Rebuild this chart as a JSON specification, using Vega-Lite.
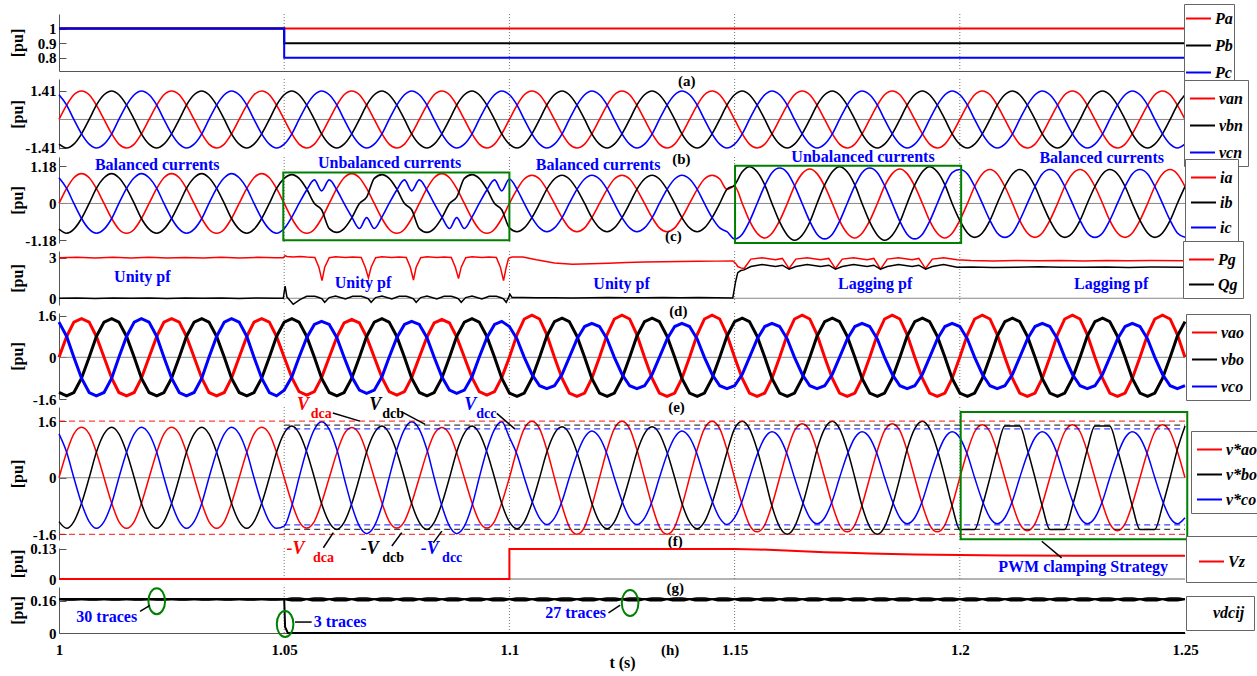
{
"$schema":"https://vega.github.io/schema/vega-lite/v6.json",
"padding":{"left":9,"top":3,"right":4,"bottom":2},
"bounds":"flush",
"spacing":8,
"config":{
"view":{"stroke":null},
"background":"white",
"axis":{"labelFont":"Liberation Serif","labelFontSize":15,"labelFontWeight":"bold","labelColor":"#000","titleFont":"Liberation Serif","titleFontSize":16,"titleFontWeight":"bold","titleColor":"#000","domainColor":"#555","tickColor":"#555","grid":false},
"axisY":{"titleX":-34,"tickSize":-7,"labelPadding":10,"labelOverlap":false},
"legend":{"strokeColor":"#666","fillColor":"white","padding":5,"rowPadding":6,"symbolType":"stroke","symbolSize":625,"symbolStrokeWidth":2,"labelFont":"Liberation Serif","labelFontSize":16,"labelFontStyle":"italic","labelFontWeight":"bold","labelColor":"#000","labelOffset":3},
"text":{"font":"Liberation Serif","fontWeight":"bold","fontSize":15}
},
"resolve":{"scale":{"color":"independent","y":"independent","x":"independent"},"legend":{"color":"independent"}},
"datasets":{
"vg":[{"t":1.05},{"t":1.1},{"t":1.15},{"t":1.2}],
"w":[
{"t":1,"a":0,"b":-1.22,"c":1.22,"d":0,"e":-0.82,"f":0.82,"g":0,"h":-1.35,"i":1.35,"j":0,"k":-1.24,"l":1.24,"p":0.166,"q":0.166},
{"t":1.0017,"a":0.71,"b":-1.41,"c":0.71,"d":0.48,"e":-0.95,"f":0.48,"g":0.8,"h":-1.48,"i":0.8,"j":0.72,"k":-1.43,"l":0.72,"p":0.169,"q":0.163},
{"t":1.0033,"a":1.22,"b":-1.22,"c":0,"d":0.82,"e":-0.82,"f":0,"g":1.35,"h":-1.35,"i":0,"j":1.24,"k":-1.24,"l":0,"p":0.169,"q":0.163},
{"t":1.005,"a":1.41,"b":-0.71,"c":-0.71,"d":0.95,"e":-0.48,"f":-0.48,"g":1.48,"h":-0.8,"i":-0.8,"j":1.43,"k":-0.72,"l":-0.72,"p":0.166,"q":0.166},
{"t":1.0067,"a":1.22,"b":0,"c":-1.22,"d":0.82,"e":0,"f":-0.82,"g":1.35,"h":0,"i":-1.35,"j":1.24,"k":0,"l":-1.24,"p":0.163,"q":0.169},
{"t":1.0083,"a":0.71,"b":0.71,"c":-1.41,"d":0.48,"e":0.48,"f":-0.95,"g":0.8,"h":0.8,"i":-1.48,"j":0.72,"k":0.72,"l":-1.43,"p":0.163,"q":0.169},
{"t":1.01,"a":0,"b":1.22,"c":-1.22,"d":0,"e":0.82,"f":-0.82,"g":0,"h":1.35,"i":-1.35,"j":0,"k":1.24,"l":-1.24,"p":0.166,"q":0.166},
{"t":1.0117,"a":-0.71,"b":1.41,"c":-0.71,"d":-0.48,"e":0.95,"f":-0.48,"g":-0.8,"h":1.48,"i":-0.8,"j":-0.72,"k":1.43,"l":-0.72,"p":0.169,"q":0.163},
{"t":1.0133,"a":-1.22,"b":1.22,"c":0,"d":-0.82,"e":0.82,"f":0,"g":-1.35,"h":1.35,"i":0,"j":-1.24,"k":1.24,"l":0,"p":0.169,"q":0.163},
{"t":1.015,"a":-1.41,"b":0.71,"c":0.71,"d":-0.95,"e":0.48,"f":0.48,"g":-1.48,"h":0.8,"i":0.8,"j":-1.43,"k":0.72,"l":0.72,"p":0.166,"q":0.166},
{"t":1.0167,"a":-1.22,"b":0,"c":1.22,"d":-0.82,"e":0,"f":0.82,"g":-1.35,"h":0,"i":1.35,"j":-1.24,"k":0,"l":1.24,"p":0.163,"q":0.169},
{"t":1.0183,"a":-0.71,"b":-0.71,"c":1.41,"d":-0.48,"e":-0.48,"f":0.95,"g":-0.8,"h":-0.8,"i":1.48,"j":-0.72,"k":-0.72,"l":1.43,"p":0.163,"q":0.169},
{"t":1.02,"a":0,"b":-1.22,"c":1.22,"d":0,"e":-0.82,"f":0.82,"g":0,"h":-1.35,"i":1.35,"j":0,"k":-1.24,"l":1.24,"p":0.166,"q":0.166},
{"t":1.0217,"a":0.71,"b":-1.41,"c":0.71,"d":0.48,"e":-0.95,"f":0.48,"g":0.8,"h":-1.48,"i":0.8,"j":0.72,"k":-1.43,"l":0.72,"p":0.169,"q":0.163},
{"t":1.0233,"a":1.22,"b":-1.22,"c":0,"d":0.82,"e":-0.82,"f":0,"g":1.35,"h":-1.35,"i":0,"j":1.24,"k":-1.24,"l":0,"p":0.169,"q":0.163},
{"t":1.025,"a":1.41,"b":-0.71,"c":-0.71,"d":0.95,"e":-0.48,"f":-0.48,"g":1.48,"h":-0.8,"i":-0.8,"j":1.43,"k":-0.72,"l":-0.72,"p":0.166,"q":0.166},
{"t":1.0267,"a":1.22,"b":0,"c":-1.22,"d":0.82,"e":0,"f":-0.82,"g":1.35,"h":0,"i":-1.35,"j":1.24,"k":0,"l":-1.24,"p":0.163,"q":0.169},
{"t":1.0283,"a":0.71,"b":0.71,"c":-1.41,"d":0.48,"e":0.48,"f":-0.95,"g":0.8,"h":0.8,"i":-1.48,"j":0.72,"k":0.72,"l":-1.43,"p":0.163,"q":0.169},
{"t":1.03,"a":0,"b":1.22,"c":-1.22,"d":0,"e":0.82,"f":-0.82,"g":0,"h":1.35,"i":-1.35,"j":0,"k":1.24,"l":-1.24,"p":0.166,"q":0.166},
{"t":1.0317,"a":-0.71,"b":1.41,"c":-0.71,"d":-0.48,"e":0.95,"f":-0.48,"g":-0.8,"h":1.48,"i":-0.8,"j":-0.72,"k":1.43,"l":-0.72,"p":0.169,"q":0.163},
{"t":1.0333,"a":-1.22,"b":1.22,"c":0,"d":-0.82,"e":0.82,"f":0,"g":-1.35,"h":1.35,"i":0,"j":-1.24,"k":1.24,"l":0,"p":0.169,"q":0.163},
{"t":1.035,"a":-1.41,"b":0.71,"c":0.71,"d":-0.95,"e":0.48,"f":0.48,"g":-1.48,"h":0.8,"i":0.8,"j":-1.43,"k":0.72,"l":0.72,"p":0.166,"q":0.166},
{"t":1.0367,"a":-1.22,"b":0,"c":1.22,"d":-0.82,"e":0,"f":0.82,"g":-1.35,"h":0,"i":1.35,"j":-1.24,"k":0,"l":1.24,"p":0.163,"q":0.169},
{"t":1.0383,"a":-0.71,"b":-0.71,"c":1.41,"d":-0.48,"e":-0.48,"f":0.95,"g":-0.8,"h":-0.8,"i":1.48,"j":-0.72,"k":-0.72,"l":1.43,"p":0.163,"q":0.169},
{"t":1.04,"a":0,"b":-1.22,"c":1.22,"d":0,"e":-0.82,"f":0.82,"g":0,"h":-1.35,"i":1.35,"j":0,"k":-1.24,"l":1.24,"p":0.166,"q":0.166},
{"t":1.0417,"a":0.71,"b":-1.41,"c":0.71,"d":0.48,"e":-0.95,"f":0.48,"g":0.8,"h":-1.48,"i":0.8,"j":0.72,"k":-1.43,"l":0.72,"p":0.169,"q":0.163},
{"t":1.0433,"a":1.22,"b":-1.22,"c":0,"d":0.82,"e":-0.82,"f":0,"g":1.35,"h":-1.35,"i":0,"j":1.24,"k":-1.24,"l":0,"p":0.169,"q":0.163},
{"t":1.045,"a":1.41,"b":-0.71,"c":-0.71,"d":0.95,"e":-0.48,"f":-0.48,"g":1.48,"h":-0.8,"i":-0.8,"j":1.43,"k":-0.72,"l":-0.72,"p":0.166,"q":0.166},
{"t":1.0467,"a":1.22,"b":0,"c":-1.22,"d":0.82,"e":0,"f":-0.82,"g":1.35,"h":0,"i":-1.35,"j":1.24,"k":0,"l":-1.24,"p":0.163,"q":0.169},
{"t":1.0483,"a":0.71,"b":0.71,"c":-1.41,"d":0.48,"e":0.48,"f":-0.95,"g":0.8,"h":0.8,"i":-1.48,"j":0.72,"k":0.72,"l":-1.43,"p":0.163,"q":0.169},
{"t":1.05,"a":0,"b":1.22,"c":-1.22,"d":0,"e":0.8,"f":-0.8,"g":0,"h":1.35,"i":-1.26,"j":0,"k":1.26,"l":-1.37,"p":0.166,"q":0.166},
{"t":1.0517,"a":-0.71,"b":1.41,"c":-0.71,"d":-0.48,"e":0.92,"f":-0.43,"g":-0.78,"h":1.48,"i":-0.75,"j":-0.71,"k":1.46,"l":-0.79,"p":0.173,"q":0.159},
{"t":1.0533,"a":-1.22,"b":1.22,"c":0,"d":-0.82,"e":0.8,"f":0,"g":-1.32,"h":1.35,"i":0,"j":-1.23,"k":1.26,"l":0,"p":0.173,"q":0.159},
{"t":1.055,"a":-1.41,"b":0.71,"c":0.71,"d":-0.95,"e":0.46,"f":0.43,"g":-1.45,"h":0.8,"i":0.75,"j":-1.42,"k":0.73,"l":0.79,"p":0.166,"q":0.166},
{"t":1.0567,"a":-1.22,"b":0,"c":1.22,"d":-0.82,"e":0,"f":0.75,"g":-1.32,"h":0,"i":1.26,"j":-1.23,"k":0,"l":1.37,"p":0.159,"q":0.173},
{"t":1.0583,"a":-0.71,"b":-0.71,"c":1.41,"d":-0.48,"e":-0.2,"f":0.4,"g":-0.78,"h":-0.8,"i":1.38,"j":-0.71,"k":-0.73,"l":1.58,"p":0.159,"q":0.173},
{"t":1.06,"a":0,"b":-1.22,"c":1.22,"d":0,"e":-0.8,"f":0.75,"g":0,"h":-1.35,"i":1.26,"j":0,"k":-1.26,"l":1.37,"p":0.166,"q":0.166},
{"t":1.0617,"a":0.71,"b":-1.41,"c":0.71,"d":0.48,"e":-0.92,"f":0.43,"g":0.78,"h":-1.48,"i":0.75,"j":0.71,"k":-1.46,"l":0.79,"p":0.173,"q":0.159},
{"t":1.0633,"a":1.22,"b":-1.22,"c":0,"d":0.82,"e":-0.8,"f":0,"g":1.32,"h":-1.35,"i":0,"j":1.23,"k":-1.26,"l":0,"p":0.173,"q":0.159},
{"t":1.065,"a":1.41,"b":-0.71,"c":-0.71,"d":0.95,"e":-0.46,"f":-0.43,"g":1.45,"h":-0.8,"i":-0.75,"j":1.42,"k":-0.73,"l":-0.79,"p":0.166,"q":0.166},
{"t":1.0667,"a":1.22,"b":0,"c":-1.22,"d":0.82,"e":0,"f":-0.8,"g":1.32,"h":0,"i":-1.26,"j":1.23,"k":0,"l":-1.37,"p":0.159,"q":0.173},
{"t":1.0683,"a":0.71,"b":0.71,"c":-1.41,"d":0.48,"e":0.2,"f":-0.45,"g":0.78,"h":0.8,"i":-1.38,"j":0.71,"k":0.73,"l":-1.58,"p":0.159,"q":0.173},
{"t":1.07,"a":0,"b":1.22,"c":-1.22,"d":0,"e":0.8,"f":-0.8,"g":0,"h":1.35,"i":-1.26,"j":0,"k":1.26,"l":-1.37,"p":0.166,"q":0.166},
{"t":1.0717,"a":-0.71,"b":1.41,"c":-0.71,"d":-0.48,"e":0.92,"f":-0.43,"g":-0.78,"h":1.48,"i":-0.75,"j":-0.71,"k":1.46,"l":-0.79,"p":0.173,"q":0.159},
{"t":1.0733,"a":-1.22,"b":1.22,"c":0,"d":-0.82,"e":0.8,"f":0,"g":-1.32,"h":1.35,"i":0,"j":-1.23,"k":1.26,"l":0,"p":0.173,"q":0.159},
{"t":1.075,"a":-1.41,"b":0.71,"c":0.71,"d":-0.95,"e":0.46,"f":0.43,"g":-1.45,"h":0.8,"i":0.75,"j":-1.42,"k":0.73,"l":0.79,"p":0.166,"q":0.166},
{"t":1.0767,"a":-1.22,"b":0,"c":1.22,"d":-0.82,"e":0,"f":0.75,"g":-1.32,"h":0,"i":1.26,"j":-1.23,"k":0,"l":1.37,"p":0.159,"q":0.173},
{"t":1.0783,"a":-0.71,"b":-0.71,"c":1.41,"d":-0.48,"e":-0.2,"f":0.4,"g":-0.78,"h":-0.8,"i":1.38,"j":-0.71,"k":-0.73,"l":1.58,"p":0.159,"q":0.173},
{"t":1.08,"a":0,"b":-1.22,"c":1.22,"d":0,"e":-0.8,"f":0.75,"g":0,"h":-1.35,"i":1.26,"j":0,"k":-1.26,"l":1.37,"p":0.166,"q":0.166},
{"t":1.0817,"a":0.71,"b":-1.41,"c":0.71,"d":0.48,"e":-0.92,"f":0.43,"g":0.78,"h":-1.48,"i":0.75,"j":0.71,"k":-1.46,"l":0.79,"p":0.173,"q":0.159},
{"t":1.0833,"a":1.22,"b":-1.22,"c":0,"d":0.82,"e":-0.8,"f":0,"g":1.32,"h":-1.35,"i":0,"j":1.23,"k":-1.26,"l":0,"p":0.173,"q":0.159},
{"t":1.085,"a":1.41,"b":-0.71,"c":-0.71,"d":0.95,"e":-0.46,"f":-0.43,"g":1.45,"h":-0.8,"i":-0.75,"j":1.42,"k":-0.73,"l":-0.79,"p":0.166,"q":0.166},
{"t":1.0867,"a":1.22,"b":0,"c":-1.22,"d":0.82,"e":0,"f":-0.8,"g":1.32,"h":0,"i":-1.26,"j":1.23,"k":0,"l":-1.37,"p":0.159,"q":0.173},
{"t":1.0883,"a":0.71,"b":0.71,"c":-1.41,"d":0.48,"e":0.2,"f":-0.45,"g":0.78,"h":0.8,"i":-1.38,"j":0.71,"k":0.73,"l":-1.58,"p":0.159,"q":0.173},
{"t":1.09,"a":0,"b":1.22,"c":-1.22,"d":0,"e":0.8,"f":-0.8,"g":0,"h":1.35,"i":-1.26,"j":0,"k":1.26,"l":-1.37,"p":0.166,"q":0.166},
{"t":1.0917,"a":-0.71,"b":1.41,"c":-0.71,"d":-0.48,"e":0.92,"f":-0.43,"g":-0.78,"h":1.48,"i":-0.75,"j":-0.71,"k":1.46,"l":-0.79,"p":0.173,"q":0.159},
{"t":1.0933,"a":-1.22,"b":1.22,"c":0,"d":-0.82,"e":0.8,"f":0,"g":-1.32,"h":1.35,"i":0,"j":-1.23,"k":1.26,"l":0,"p":0.173,"q":0.159},
{"t":1.095,"a":-1.41,"b":0.71,"c":0.71,"d":-0.95,"e":0.46,"f":0.43,"g":-1.45,"h":0.8,"i":0.75,"j":-1.42,"k":0.73,"l":0.79,"p":0.166,"q":0.166},
{"t":1.0967,"a":-1.22,"b":0,"c":1.22,"d":-0.82,"e":0,"f":0.75,"g":-1.32,"h":0,"i":1.26,"j":-1.23,"k":0,"l":1.37,"p":0.159,"q":0.173},
{"t":1.0983,"a":-0.71,"b":-0.71,"c":1.41,"d":-0.48,"e":-0.2,"f":0.4,"g":-0.78,"h":-0.8,"i":1.38,"j":-0.71,"k":-0.73,"l":1.58,"p":0.159,"q":0.173},
{"t":1.1,"a":0,"b":-1.22,"c":1.22,"d":0,"e":-0.78,"f":0.78,"g":0,"h":-1.37,"i":1.18,"j":0,"k":-1.25,"l":1.14,"p":0.166,"q":0.166},
{"t":1.1017,"a":0.71,"b":-1.41,"c":0.71,"d":0.45,"e":-0.9,"f":0.45,"g":0.87,"h":-1.5,"i":0.7,"j":0.8,"k":-1.44,"l":0.66,"p":0.173,"q":0.159},
{"t":1.1033,"a":1.22,"b":-1.22,"c":0,"d":0.78,"e":-0.78,"f":0,"g":1.47,"h":-1.37,"i":0,"j":1.39,"k":-1.25,"l":0,"p":0.173,"q":0.159},
{"t":1.105,"a":1.41,"b":-0.71,"c":-0.71,"d":0.9,"e":-0.45,"f":-0.45,"g":1.62,"h":-0.81,"i":-0.65,"j":1.6,"k":-0.72,"l":-0.66,"p":0.166,"q":0.166},
{"t":1.1067,"a":1.22,"b":0,"c":-1.22,"d":0.78,"e":0,"f":-0.78,"g":1.47,"h":0,"i":-1.09,"j":1.39,"k":0,"l":-1.14,"p":0.159,"q":0.173},
{"t":1.1083,"a":0.71,"b":0.71,"c":-1.41,"d":0.45,"e":0.45,"f":-0.9,"g":0.87,"h":0.81,"i":-1.2,"j":0.8,"k":0.72,"l":-1.32,"p":0.159,"q":0.173},
{"t":1.11,"a":0,"b":1.22,"c":-1.22,"d":0,"e":0.78,"f":-0.78,"g":0,"h":1.37,"i":-1.09,"j":0,"k":1.25,"l":-1.14,"p":0.166,"q":0.166},
{"t":1.1117,"a":-0.71,"b":1.41,"c":-0.71,"d":-0.45,"e":0.9,"f":-0.45,"g":-0.81,"h":1.5,"i":-0.65,"j":-0.8,"k":1.44,"l":-0.66,"p":0.173,"q":0.159},
{"t":1.1133,"a":-1.22,"b":1.22,"c":0,"d":-0.78,"e":0.78,"f":0,"g":-1.37,"h":1.37,"i":0,"j":-1.39,"k":1.25,"l":0,"p":0.173,"q":0.159},
{"t":1.115,"a":-1.41,"b":0.71,"c":0.71,"d":-0.9,"e":0.45,"f":0.45,"g":-1.5,"h":0.81,"i":0.7,"j":-1.6,"k":0.72,"l":0.66,"p":0.166,"q":0.166},
{"t":1.1167,"a":-1.22,"b":0,"c":1.22,"d":-0.78,"e":0,"f":0.78,"g":-1.37,"h":0,"i":1.18,"j":-1.39,"k":0,"l":1.14,"p":0.159,"q":0.173},
{"t":1.1183,"a":-0.71,"b":-0.71,"c":1.41,"d":-0.45,"e":-0.45,"f":0.9,"g":-0.81,"h":-0.81,"i":1.3,"j":-0.8,"k":-0.72,"l":1.32,"p":0.159,"q":0.173},
{"t":1.12,"a":0,"b":-1.22,"c":1.22,"d":0,"e":-0.78,"f":0.78,"g":0,"h":-1.37,"i":1.18,"j":0,"k":-1.25,"l":1.14,"p":0.166,"q":0.166},
{"t":1.1217,"a":0.71,"b":-1.41,"c":0.71,"d":0.45,"e":-0.9,"f":0.45,"g":0.87,"h":-1.5,"i":0.7,"j":0.8,"k":-1.44,"l":0.66,"p":0.173,"q":0.159},
{"t":1.1233,"a":1.22,"b":-1.22,"c":0,"d":0.78,"e":-0.78,"f":0,"g":1.47,"h":-1.37,"i":0,"j":1.39,"k":-1.25,"l":0,"p":0.173,"q":0.159},
{"t":1.125,"a":1.41,"b":-0.71,"c":-0.71,"d":0.9,"e":-0.45,"f":-0.45,"g":1.62,"h":-0.81,"i":-0.65,"j":1.6,"k":-0.72,"l":-0.66,"p":0.166,"q":0.166},
{"t":1.1267,"a":1.22,"b":0,"c":-1.22,"d":0.78,"e":0,"f":-0.78,"g":1.47,"h":0,"i":-1.09,"j":1.39,"k":0,"l":-1.14,"p":0.159,"q":0.173},
{"t":1.1283,"a":0.71,"b":0.71,"c":-1.41,"d":0.45,"e":0.45,"f":-0.9,"g":0.87,"h":0.81,"i":-1.2,"j":0.8,"k":0.72,"l":-1.32,"p":0.159,"q":0.173},
{"t":1.13,"a":0,"b":1.22,"c":-1.22,"d":0,"e":0.78,"f":-0.78,"g":0,"h":1.37,"i":-1.09,"j":0,"k":1.25,"l":-1.14,"p":0.166,"q":0.166},
{"t":1.1317,"a":-0.71,"b":1.41,"c":-0.71,"d":-0.45,"e":0.9,"f":-0.45,"g":-0.81,"h":1.5,"i":-0.65,"j":-0.8,"k":1.44,"l":-0.66,"p":0.173,"q":0.159},
{"t":1.1333,"a":-1.22,"b":1.22,"c":0,"d":-0.78,"e":0.78,"f":0,"g":-1.37,"h":1.37,"i":0,"j":-1.39,"k":1.25,"l":0,"p":0.173,"q":0.159},
{"t":1.135,"a":-1.41,"b":0.71,"c":0.71,"d":-0.9,"e":0.45,"f":0.45,"g":-1.5,"h":0.81,"i":0.7,"j":-1.6,"k":0.72,"l":0.66,"p":0.166,"q":0.166},
{"t":1.1367,"a":-1.22,"b":0,"c":1.22,"d":-0.78,"e":0,"f":0.78,"g":-1.37,"h":0,"i":1.18,"j":-1.39,"k":0,"l":1.14,"p":0.159,"q":0.173},
{"t":1.1383,"a":-0.71,"b":-0.71,"c":1.41,"d":-0.45,"e":-0.45,"f":0.9,"g":-0.81,"h":-0.81,"i":1.3,"j":-0.8,"k":-0.72,"l":1.32,"p":0.159,"q":0.173},
{"t":1.14,"a":0,"b":-1.22,"c":1.22,"d":0,"e":-0.78,"f":0.78,"g":0,"h":-1.37,"i":1.18,"j":0,"k":-1.25,"l":1.14,"p":0.166,"q":0.166},
{"t":1.1417,"a":0.71,"b":-1.41,"c":0.71,"d":0.45,"e":-0.9,"f":0.45,"g":0.87,"h":-1.5,"i":0.7,"j":0.8,"k":-1.44,"l":0.66,"p":0.173,"q":0.159},
{"t":1.1433,"a":1.22,"b":-1.22,"c":0,"d":0.78,"e":-0.78,"f":0,"g":1.47,"h":-1.37,"i":0,"j":1.39,"k":-1.25,"l":0,"p":0.173,"q":0.159},
{"t":1.145,"a":1.41,"b":-0.71,"c":-0.71,"d":0.9,"e":-0.45,"f":-0.45,"g":1.62,"h":-0.81,"i":-0.65,"j":1.6,"k":-0.72,"l":-0.66,"p":0.166,"q":0.166},
{"t":1.1467,"a":1.22,"b":0,"c":-1.22,"d":0.78,"e":0,"f":-0.78,"g":1.47,"h":0,"i":-1.09,"j":1.39,"k":0,"l":-1.14,"p":0.159,"q":0.173},
{"t":1.1483,"a":0.71,"b":0.71,"c":-1.41,"d":0.45,"e":0.45,"f":-0.9,"g":0.87,"h":0.81,"i":-1.2,"j":0.8,"k":0.72,"l":-1.32,"p":0.159,"q":0.173},
{"t":1.15,"a":0,"b":1.22,"c":-1.22,"d":0.55,"e":0.59,"f":-1.13,"g":0,"h":1.37,"i":-1.09,"j":0,"k":1.39,"l":-1.13,"p":0.166,"q":0.166},
{"t":1.1517,"a":-0.71,"b":1.41,"c":-0.71,"d":0,"e":1.01,"f":-0.98,"g":-0.81,"h":1.5,"i":-0.65,"j":-0.77,"k":1.6,"l":-0.65,"p":0.173,"q":0.159},
{"t":1.1533,"a":-1.22,"b":1.22,"c":0,"d":-0.55,"e":1.17,"f":-0.57,"g":-1.37,"h":1.37,"i":0,"j":-1.33,"k":1.39,"l":0,"p":0.173,"q":0.159},
{"t":1.155,"a":-1.41,"b":0.71,"c":0.71,"d":-0.95,"e":1.01,"f":0,"g":-1.5,"h":0.81,"i":0.7,"j":-1.53,"k":0.8,"l":0.65,"p":0.166,"q":0.166},
{"t":1.1567,"a":-1.22,"b":0,"c":1.22,"d":-1.1,"e":0.59,"f":0.57,"g":-1.37,"h":0,"i":1.18,"j":-1.33,"k":0,"l":1.13,"p":0.159,"q":0.173},
{"t":1.1583,"a":-0.71,"b":-0.71,"c":1.41,"d":-0.95,"e":0,"f":0.98,"g":-0.81,"h":-0.81,"i":1.3,"j":-0.77,"k":-0.8,"l":1.3,"p":0.159,"q":0.173},
{"t":1.16,"a":0,"b":-1.22,"c":1.22,"d":-0.55,"e":-0.59,"f":1.13,"g":0,"h":-1.37,"i":1.18,"j":0,"k":-1.39,"l":1.13,"p":0.166,"q":0.166},
{"t":1.1617,"a":0.71,"b":-1.41,"c":0.71,"d":0,"e":-1.01,"f":0.98,"g":0.87,"h":-1.5,"i":0.7,"j":0.77,"k":-1.6,"l":0.65,"p":0.173,"q":0.159},
{"t":1.1633,"a":1.22,"b":-1.22,"c":0,"d":0.55,"e":-1.17,"f":0.57,"g":1.47,"h":-1.37,"i":0,"j":1.33,"k":-1.39,"l":0,"p":0.173,"q":0.159},
{"t":1.165,"a":1.41,"b":-0.71,"c":-0.71,"d":0.95,"e":-1.01,"f":0,"g":1.62,"h":-0.81,"i":-0.65,"j":1.53,"k":-0.8,"l":-0.65,"p":0.166,"q":0.166},
{"t":1.1667,"a":1.22,"b":0,"c":-1.22,"d":1.1,"e":-0.59,"f":-0.57,"g":1.47,"h":0,"i":-1.09,"j":1.33,"k":0,"l":-1.13,"p":0.159,"q":0.173},
{"t":1.1683,"a":0.71,"b":0.71,"c":-1.41,"d":0.95,"e":0,"f":-0.98,"g":0.87,"h":0.81,"i":-1.2,"j":0.77,"k":0.8,"l":-1.3,"p":0.159,"q":0.173},
{"t":1.17,"a":0,"b":1.22,"c":-1.22,"d":0.55,"e":0.59,"f":-1.13,"g":0,"h":1.37,"i":-1.09,"j":0,"k":1.39,"l":-1.13,"p":0.166,"q":0.166},
{"t":1.1717,"a":-0.71,"b":1.41,"c":-0.71,"d":0,"e":1.01,"f":-0.98,"g":-0.81,"h":1.5,"i":-0.65,"j":-0.77,"k":1.6,"l":-0.65,"p":0.173,"q":0.159},
{"t":1.1733,"a":-1.22,"b":1.22,"c":0,"d":-0.55,"e":1.17,"f":-0.57,"g":-1.37,"h":1.37,"i":0,"j":-1.33,"k":1.39,"l":0,"p":0.173,"q":0.159},
{"t":1.175,"a":-1.41,"b":0.71,"c":0.71,"d":-0.95,"e":1.01,"f":0,"g":-1.5,"h":0.81,"i":0.7,"j":-1.53,"k":0.8,"l":0.65,"p":0.166,"q":0.166},
{"t":1.1767,"a":-1.22,"b":0,"c":1.22,"d":-1.1,"e":0.59,"f":0.57,"g":-1.37,"h":0,"i":1.18,"j":-1.33,"k":0,"l":1.13,"p":0.159,"q":0.173},
{"t":1.1783,"a":-0.71,"b":-0.71,"c":1.41,"d":-0.95,"e":0,"f":0.98,"g":-0.81,"h":-0.81,"i":1.3,"j":-0.77,"k":-0.8,"l":1.3,"p":0.159,"q":0.173},
{"t":1.18,"a":0,"b":-1.22,"c":1.22,"d":-0.55,"e":-0.59,"f":1.13,"g":0,"h":-1.37,"i":1.18,"j":0,"k":-1.39,"l":1.13,"p":0.166,"q":0.166},
{"t":1.1817,"a":0.71,"b":-1.41,"c":0.71,"d":0,"e":-1.01,"f":0.98,"g":0.87,"h":-1.5,"i":0.7,"j":0.77,"k":-1.6,"l":0.65,"p":0.173,"q":0.159},
{"t":1.1833,"a":1.22,"b":-1.22,"c":0,"d":0.55,"e":-1.17,"f":0.57,"g":1.47,"h":-1.37,"i":0,"j":1.33,"k":-1.39,"l":0,"p":0.173,"q":0.159},
{"t":1.185,"a":1.41,"b":-0.71,"c":-0.71,"d":0.95,"e":-1.01,"f":0,"g":1.62,"h":-0.81,"i":-0.65,"j":1.53,"k":-0.8,"l":-0.65,"p":0.166,"q":0.166},
{"t":1.1867,"a":1.22,"b":0,"c":-1.22,"d":1.1,"e":-0.59,"f":-0.57,"g":1.47,"h":0,"i":-1.09,"j":1.33,"k":0,"l":-1.13,"p":0.159,"q":0.173},
{"t":1.1883,"a":0.71,"b":0.71,"c":-1.41,"d":0.95,"e":0,"f":-0.98,"g":0.87,"h":0.81,"i":-1.2,"j":0.77,"k":0.8,"l":-1.3,"p":0.159,"q":0.173},
{"t":1.19,"a":0,"b":1.22,"c":-1.22,"d":0.55,"e":0.59,"f":-1.13,"g":0,"h":1.37,"i":-1.09,"j":0,"k":1.39,"l":-1.13,"p":0.166,"q":0.166},
{"t":1.1917,"a":-0.71,"b":1.41,"c":-0.71,"d":0,"e":1.01,"f":-0.98,"g":-0.81,"h":1.5,"i":-0.65,"j":-0.77,"k":1.6,"l":-0.65,"p":0.173,"q":0.159},
{"t":1.1933,"a":-1.22,"b":1.22,"c":0,"d":-0.55,"e":1.17,"f":-0.57,"g":-1.37,"h":1.37,"i":0,"j":-1.33,"k":1.39,"l":0,"p":0.173,"q":0.159},
{"t":1.195,"a":-1.41,"b":0.71,"c":0.71,"d":-0.95,"e":1.01,"f":0,"g":-1.5,"h":0.81,"i":0.7,"j":-1.53,"k":0.8,"l":0.65,"p":0.166,"q":0.166},
{"t":1.1967,"a":-1.22,"b":0,"c":1.22,"d":-1.1,"e":0.59,"f":0.57,"g":-1.37,"h":0,"i":1.18,"j":-1.33,"k":0,"l":1.13,"p":0.159,"q":0.173},
{"t":1.1983,"a":-0.71,"b":-0.71,"c":1.41,"d":-0.95,"e":0,"f":0.98,"g":-0.81,"h":-0.81,"i":1.3,"j":-0.77,"k":-0.8,"l":1.3,"p":0.159,"q":0.173},
{"t":1.2,"a":0,"b":-1.22,"c":1.22,"d":-0.54,"e":-0.54,"f":1.08,"g":0,"h":-1.37,"i":1.18,"j":0,"k":-1.46,"l":1.13,"p":0.166,"q":0.166},
{"t":1.2017,"a":0.71,"b":-1.41,"c":0.71,"d":0,"e":-0.94,"f":0.94,"g":0.87,"h":-1.5,"i":0.7,"j":0.75,"k":-1.46,"l":0.65,"p":0.173,"q":0.159},
{"t":1.2033,"a":1.22,"b":-1.22,"c":0,"d":0.54,"e":-1.08,"f":0.54,"g":1.47,"h":-1.37,"i":0,"j":1.3,"k":-1.46,"l":0,"p":0.173,"q":0.159},
{"t":1.205,"a":1.41,"b":-0.71,"c":-0.71,"d":0.94,"e":-0.94,"f":0,"g":1.62,"h":-0.81,"i":-0.65,"j":1.5,"k":-0.8,"l":-0.65,"p":0.166,"q":0.166},
{"t":1.2067,"a":1.22,"b":0,"c":-1.22,"d":1.08,"e":-0.54,"f":-0.54,"g":1.47,"h":0,"i":-1.09,"j":1.3,"k":0,"l":-1.13,"p":0.159,"q":0.173},
{"t":1.2083,"a":0.71,"b":0.71,"c":-1.41,"d":0.94,"e":0,"f":-0.94,"g":0.87,"h":0.81,"i":-1.2,"j":0.75,"k":0.8,"l":-1.3,"p":0.159,"q":0.173},
{"t":1.21,"a":0,"b":1.22,"c":-1.22,"d":0.54,"e":0.54,"f":-1.08,"g":0,"h":1.37,"i":-1.09,"j":0,"k":1.46,"l":-1.13,"p":0.166,"q":0.166},
{"t":1.2117,"a":-0.71,"b":1.41,"c":-0.71,"d":0,"e":0.94,"f":-0.94,"g":-0.81,"h":1.5,"i":-0.65,"j":-0.75,"k":1.46,"l":-0.65,"p":0.173,"q":0.159},
{"t":1.2133,"a":-1.22,"b":1.22,"c":0,"d":-0.54,"e":1.08,"f":-0.54,"g":-1.37,"h":1.37,"i":0,"j":-1.3,"k":1.46,"l":0,"p":0.173,"q":0.159},
{"t":1.215,"a":-1.41,"b":0.71,"c":0.71,"d":-0.94,"e":0.94,"f":0,"g":-1.5,"h":0.81,"i":0.7,"j":-1.5,"k":0.8,"l":0.65,"p":0.166,"q":0.166},
{"t":1.2167,"a":-1.22,"b":0,"c":1.22,"d":-1.08,"e":0.54,"f":0.54,"g":-1.37,"h":0,"i":1.18,"j":-1.3,"k":0,"l":1.13,"p":0.159,"q":0.173},
{"t":1.2183,"a":-0.71,"b":-0.71,"c":1.41,"d":-0.94,"e":0,"f":0.94,"g":-0.81,"h":-0.81,"i":1.3,"j":-0.75,"k":-0.8,"l":1.3,"p":0.159,"q":0.173},
{"t":1.22,"a":0,"b":-1.22,"c":1.22,"d":-0.54,"e":-0.54,"f":1.08,"g":0,"h":-1.37,"i":1.18,"j":0,"k":-1.46,"l":1.13,"p":0.166,"q":0.166},
{"t":1.2217,"a":0.71,"b":-1.41,"c":0.71,"d":0,"e":-0.94,"f":0.94,"g":0.87,"h":-1.5,"i":0.7,"j":0.75,"k":-1.46,"l":0.65,"p":0.173,"q":0.159},
{"t":1.2233,"a":1.22,"b":-1.22,"c":0,"d":0.54,"e":-1.08,"f":0.54,"g":1.47,"h":-1.37,"i":0,"j":1.3,"k":-1.46,"l":0,"p":0.173,"q":0.159},
{"t":1.225,"a":1.41,"b":-0.71,"c":-0.71,"d":0.94,"e":-0.94,"f":0,"g":1.62,"h":-0.81,"i":-0.65,"j":1.5,"k":-0.8,"l":-0.65,"p":0.166,"q":0.166},
{"t":1.2267,"a":1.22,"b":0,"c":-1.22,"d":1.08,"e":-0.54,"f":-0.54,"g":1.47,"h":0,"i":-1.09,"j":1.3,"k":0,"l":-1.13,"p":0.159,"q":0.173},
{"t":1.2283,"a":0.71,"b":0.71,"c":-1.41,"d":0.94,"e":0,"f":-0.94,"g":0.87,"h":0.81,"i":-1.2,"j":0.75,"k":0.8,"l":-1.3,"p":0.159,"q":0.173},
{"t":1.23,"a":0,"b":1.22,"c":-1.22,"d":0.54,"e":0.54,"f":-1.08,"g":0,"h":1.37,"i":-1.09,"j":0,"k":1.46,"l":-1.13,"p":0.166,"q":0.166},
{"t":1.2317,"a":-0.71,"b":1.41,"c":-0.71,"d":0,"e":0.94,"f":-0.94,"g":-0.81,"h":1.5,"i":-0.65,"j":-0.75,"k":1.46,"l":-0.65,"p":0.173,"q":0.159},
{"t":1.2333,"a":-1.22,"b":1.22,"c":0,"d":-0.54,"e":1.08,"f":-0.54,"g":-1.37,"h":1.37,"i":0,"j":-1.3,"k":1.46,"l":0,"p":0.173,"q":0.159},
{"t":1.235,"a":-1.41,"b":0.71,"c":0.71,"d":-0.94,"e":0.94,"f":0,"g":-1.5,"h":0.81,"i":0.7,"j":-1.5,"k":0.8,"l":0.65,"p":0.166,"q":0.166},
{"t":1.2367,"a":-1.22,"b":0,"c":1.22,"d":-1.08,"e":0.54,"f":0.54,"g":-1.37,"h":0,"i":1.18,"j":-1.3,"k":0,"l":1.13,"p":0.159,"q":0.173},
{"t":1.2383,"a":-0.71,"b":-0.71,"c":1.41,"d":-0.94,"e":0,"f":0.94,"g":-0.81,"h":-0.81,"i":1.3,"j":-0.75,"k":-0.8,"l":1.3,"p":0.159,"q":0.173},
{"t":1.24,"a":0,"b":-1.22,"c":1.22,"d":-0.54,"e":-0.54,"f":1.08,"g":0,"h":-1.37,"i":1.18,"j":0,"k":-1.46,"l":1.13,"p":0.166,"q":0.166},
{"t":1.2417,"a":0.71,"b":-1.41,"c":0.71,"d":0,"e":-0.94,"f":0.94,"g":0.87,"h":-1.5,"i":0.7,"j":0.75,"k":-1.46,"l":0.65,"p":0.173,"q":0.159},
{"t":1.2433,"a":1.22,"b":-1.22,"c":0,"d":0.54,"e":-1.08,"f":0.54,"g":1.47,"h":-1.37,"i":0,"j":1.3,"k":-1.46,"l":0,"p":0.173,"q":0.159},
{"t":1.245,"a":1.41,"b":-0.71,"c":-0.71,"d":0.94,"e":-0.94,"f":0,"g":1.62,"h":-0.81,"i":-0.65,"j":1.5,"k":-0.8,"l":-0.65,"p":0.166,"q":0.166},
{"t":1.2467,"a":1.22,"b":0,"c":-1.22,"d":1.08,"e":-0.54,"f":-0.54,"g":1.47,"h":0,"i":-1.09,"j":1.3,"k":0,"l":-1.13,"p":0.159,"q":0.173},
{"t":1.2483,"a":0.71,"b":0.71,"c":-1.41,"d":0.94,"e":0,"f":-0.94,"g":0.87,"h":0.81,"i":-1.2,"j":0.75,"k":0.8,"l":-1.3,"p":0.159,"q":0.173},
{"t":1.25,"a":0,"b":1.22,"c":-1.22,"d":0.54,"e":0.54,"f":-1.08,"g":0,"h":1.37,"i":-1.09,"j":0,"k":1.46,"l":-1.13,"p":0.166,"q":0.166}
],
"pq":[
{"t":1,"P":3.0,"Q":0},{"t":1.004,"P":3.04,"Q":0.02},{"t":1.008,"P":2.98,"Q":-0.01},{"t":1.012,"P":3.03,"Q":0.01},{"t":1.016,"P":2.99,"Q":0},{"t":1.02,"P":3.04,"Q":0.02},{"t":1.024,"P":2.98,"Q":-0.01},{"t":1.028,"P":3.02,"Q":0.01},{"t":1.032,"P":2.99,"Q":0},{"t":1.036,"P":3.04,"Q":0.01},{"t":1.04,"P":2.98,"Q":-0.01},{"t":1.044,"P":3.03,"Q":0.02},{"t":1.048,"P":3.0,"Q":0},{"t":1.0498,"P":3.0,"Q":0},
{"t":1.0502,"P":3.15,"Q":0.9},{"t":1.0506,"P":3.1,"Q":0.1},{"t":1.052,"P":3.05,"Q":-0.45},{"t":1.0535,"P":3.1,"Q":-0.1},{"t":1.055,"P":3.05,"Q":0.15},
{"t":1.0568,"P":3.02,"Q":0.15},{"t":1.0577,"P":2.3,"Q":0.05},{"t":1.0584,"P":1.3,"Q":-0.05},{"t":1.059,"P":2.3,"Q":-0.3},{"t":1.06,"P":3.0,"Q":0.05},{"t":1.0614,"P":3.08,"Q":0.17},{"t":1.0636,"P":3.02,"Q":-0.05},{"t":1.0652,"P":3.06,"Q":0.15},
{"t":1.0671,"P":3.02,"Q":0.15},{"t":1.068,"P":2.3,"Q":0.05},{"t":1.0687,"P":1.5,"Q":-0.05},{"t":1.0693,"P":2.3,"Q":-0.3},{"t":1.0703,"P":3.0,"Q":0.05},{"t":1.0717,"P":3.08,"Q":0.17},{"t":1.0739,"P":3.02,"Q":-0.05},{"t":1.0755,"P":3.06,"Q":0.15},
{"t":1.0771,"P":3.02,"Q":0.15},{"t":1.078,"P":2.3,"Q":0.05},{"t":1.0787,"P":1.35,"Q":-0.05},{"t":1.0793,"P":2.3,"Q":-0.3},{"t":1.0803,"P":3.0,"Q":0.05},{"t":1.0817,"P":3.08,"Q":0.17},{"t":1.0839,"P":3.02,"Q":-0.05},{"t":1.0855,"P":3.06,"Q":0.15},
{"t":1.0871,"P":3.02,"Q":0.15},{"t":1.088,"P":2.3,"Q":0.05},{"t":1.0887,"P":1.45,"Q":-0.05},{"t":1.0893,"P":2.3,"Q":-0.3},{"t":1.0903,"P":3.0,"Q":0.05},{"t":1.0917,"P":3.08,"Q":0.17},{"t":1.0939,"P":3.02,"Q":-0.05},{"t":1.0955,"P":3.06,"Q":0.15},
{"t":1.0971,"P":3.02,"Q":0.15},{"t":1.098,"P":2.3,"Q":0.05},{"t":1.0987,"P":1.3,"Q":-0.05},{"t":1.0993,"P":2.3,"Q":-0.3},{"t":1.0998,"P":2.95,"Q":0.05},
{"t":1.1001,"P":3.0,"Q":0.3},{"t":1.1006,"P":3.05,"Q":0.05},{"t":1.103,"P":3.05,"Q":0.05},{"t":1.106,"P":2.85,"Q":0.03},{"t":1.11,"P":2.62,"Q":0.04},{"t":1.114,"P":2.52,"Q":0.02},{"t":1.118,"P":2.56,"Q":0.03},{"t":1.122,"P":2.6,"Q":0.05},{"t":1.126,"P":2.65,"Q":0.03},{"t":1.13,"P":2.68,"Q":0.04},{"t":1.134,"P":2.7,"Q":0.05},{"t":1.138,"P":2.72,"Q":0.03},{"t":1.142,"P":2.74,"Q":0.05},{"t":1.146,"P":2.75,"Q":0.04},{"t":1.1496,"P":2.76,"Q":0.02},
{"t":1.1502,"P":2.6,"Q":1.2},{"t":1.1507,"P":2.35,"Q":1.9},{"t":1.1514,"P":2.25,"Q":2.05},{"t":1.1521,"P":2.2,"Q":2.1},{"t":1.1536,"P":2.9,"Q":2.35},{"t":1.1561,"P":3.0,"Q":2.5},{"t":1.1591,"P":2.85,"Q":2.35},
{"t":1.1606,"P":2.95,"Q":2.45},{"t":1.1621,"P":2.2,"Q":2.15},{"t":1.1636,"P":2.9,"Q":2.35},{"t":1.1661,"P":3.0,"Q":2.5},{"t":1.1691,"P":2.85,"Q":2.35},
{"t":1.1709,"P":2.95,"Q":2.45},{"t":1.1724,"P":2.2,"Q":2.15},{"t":1.1739,"P":2.9,"Q":2.35},{"t":1.1764,"P":3.0,"Q":2.5},{"t":1.1794,"P":2.85,"Q":2.35},
{"t":1.1809,"P":2.95,"Q":2.45},{"t":1.1824,"P":2.15,"Q":2.15},{"t":1.1839,"P":2.9,"Q":2.35},{"t":1.1864,"P":3.0,"Q":2.5},{"t":1.1894,"P":2.85,"Q":2.35},
{"t":1.1909,"P":2.95,"Q":2.45},{"t":1.1924,"P":2.2,"Q":2.15},{"t":1.1939,"P":2.9,"Q":2.35},{"t":1.1964,"P":3.0,"Q":2.5},{"t":1.1994,"P":2.85,"Q":2.3},
{"t":1.2025,"P":2.8,"Q":2.32},{"t":1.2075,"P":2.76,"Q":2.28},{"t":1.2125,"P":2.8,"Q":2.3},{"t":1.2175,"P":2.77,"Q":2.33},{"t":1.2225,"P":2.79,"Q":2.29},{"t":1.2275,"P":2.76,"Q":2.3},{"t":1.2325,"P":2.8,"Q":2.32},{"t":1.2375,"P":2.78,"Q":2.28},{"t":1.2425,"P":2.79,"Q":2.31},{"t":1.25,"P":2.78,"Q":2.3}
]
},
"vconcat":[
{"width":1126,"height":57,
"encoding":{"x":{"field":"t","type":"quantitative","scale":{"domain":[1,1.25],"nice":false,"zero":false},"axis":{"labels":false,"ticks":false,"title":null,"domain":true}}},
"layer":[
{"data":{"name":"vg"},"mark":{"type":"rule","color":"#777","strokeDash":[1,2]},"encoding":{}},
{"data":{"values":[{"t":1,"v":1,"s":"Pa"},{"t":1.25,"v":1,"s":"Pa"},{"t":1,"v":1,"s":"Pb"},{"t":1.05,"v":1,"s":"Pb"},{"t":1.05,"v":0.9,"s":"Pb"},{"t":1.25,"v":0.9,"s":"Pb"},{"t":1,"v":1,"s":"Pc"},{"t":1.05,"v":1,"s":"Pc"},{"t":1.05,"v":0.8,"s":"Pc"},{"t":1.25,"v":0.8,"s":"Pc"}]},
"mark":{"type":"line","strokeWidth":2},
"encoding":{"y":{"field":"v","type":"quantitative","scale":{"domain":[0.71,1.1],"nice":false,"zero":false},"axis":{"title":"[pu]","values":[0.8,0.9,1],"format":".3~g"}},
"color":{"field":"s","type":"nominal","scale":{"domain":["Pa","Pb","Pc"],"range":["#ff0000","#000000","#0000ff"]},"legend":{"title":null,"orient":"none","legendX":1125,"legendY":-10,"rowPadding":5,"padding":1}}}},
{"data":{"values":[{"t":1.1394,"v":0.642,"lab":"(a)"}]},"mark":{"type":"text"},"encoding":{"y":{"field":"v","type":"quantitative","scale":{"domain":[0.71,1.1],"nice":false,"zero":false},"axis":{"title":"[pu]","values":[0.8,0.9,1],"format":".3~g"}},"text":{"field":"lab"}}}
]},
{"width":1126,"height":70,
"encoding":{"x":{"field":"t","type":"quantitative","scale":{"domain":[1,1.25],"nice":false,"zero":false},"axis":null}},
"layer":[
{"data":{"name":"vg"},"mark":{"type":"rule","color":"#777","strokeDash":[1,2]},"encoding":{}},
{"data":{"values":[{"t":1,"t2":1.25}]},"mark":{"type":"rule","color":"#888"},"encoding":{"x2":{"field":"t2"},"y":{"datum":0,"type":"quantitative","scale":{"domain":[-1.46,2.0],"nice":false,"zero":false}}}},
{"data":{"name":"w"},"transform":[{"fold":["a","b","c"],"as":["s","v"]}],
"mark":{"type":"line","interpolate":"monotone","strokeWidth":1.6},
"encoding":{"y":{"field":"v","type":"quantitative","scale":{"domain":[-1.46,2.0],"nice":false,"zero":false},"axis":{"title":"[pu]","values":[-1.41,0,1.41],"format":".3~g","labelExpr":"replace(datum.label,'−','-')"}},
"color":{"field":"s","type":"nominal","scale":{"domain":["a","b","c"],"range":["#ff0000","#000000","#0000ff"]},"legend":{"title":null,"orient":"none","legendX":1125,"legendY":1,"rowPadding":5,"labelExpr":"datum.label=='a'?'van':datum.label=='b'?'vbn':'vcn'"}}}}
]},
{"width":1126,"height":86,
"encoding":{"x":{"field":"t","type":"quantitative","scale":{"domain":[1,1.25],"nice":false,"zero":false},"axis":null}},
"layer":[
{"data":{"name":"vg"},"mark":{"type":"rule","color":"#777","strokeDash":[1,2]},"encoding":{}},
{"data":{"values":[{"t":1,"t2":1.25}]},"mark":{"type":"rule","color":"#888"},"encoding":{"x2":{"field":"t2"},"y":{"datum":0,"type":"quantitative","scale":{"domain":[-1.26,1.48],"nice":false,"zero":false}}}},
{"data":{"name":"w"},"transform":[{"fold":["d","e","f"],"as":["s","v"]}],
"mark":{"type":"line","interpolate":"monotone","strokeWidth":1.6},
"encoding":{"y":{"field":"v","type":"quantitative","scale":{"domain":[-1.26,1.48],"nice":false,"zero":false},"axis":{"title":"[pu]","values":[-1.18,0,1.18],"format":".3~g","labelExpr":"replace(datum.label,'−','-')"}},
"color":{"field":"s","type":"nominal","scale":{"domain":["d","e","f"],"range":["#ff0000","#000000","#0000ff"]},"legend":{"title":null,"orient":"none","legendX":1126,"legendY":2,"rowPadding":3,"labelExpr":"datum.label=='d'?'ia':datum.label=='e'?'ib':'ic'"}}}},
{"data":{"values":[{"t":1.0498,"t2":1.1,"v":0.99,"v2":-1.17},{"t":1.1501,"t2":1.2003,"v":1.2,"v2":-1.26}]},"mark":{"type":"rect","fillOpacity":0,"stroke":"#008000","strokeWidth":2},
"encoding":{"x2":{"field":"t2"},"y":{"field":"v","type":"quantitative","scale":{"domain":[-1.26,1.48],"nice":false,"zero":false},"axis":{"title":"[pu]","values":[-1.18,0,1.18],"format":".3~g","labelExpr":"replace(datum.label,'−','-')"}},"y2":{"field":"v2"}}},
{"data":{"values":[{"t":1.0218,"v":1.23,"lab":"Balanced currents"},{"t":1.0734,"v":1.28,"lab":"Unbalanced currents"},{"t":1.1197,"v":1.23,"lab":"Balanced currents"},{"t":1.1785,"v":1.47,"lab":"Unbalanced currents"},{"t":1.2315,"v":1.45,"lab":"Balanced currents"}]},
"mark":{"type":"text","color":"#0000ff","fontSize":16},
"encoding":{"y":{"field":"v","type":"quantitative","scale":{"domain":[-1.26,1.48],"nice":false,"zero":false},"axis":{"title":"[pu]","values":[-1.18,0,1.18],"format":".3~g","labelExpr":"replace(datum.label,'−','-')"}},"text":{"field":"lab"}}},
{"data":{"values":[{"t":1.1382,"v":1.415,"lab":"(b)"},{"t":1.1364,"v":-1.03,"lab":"(c)"}]},"mark":{"type":"text"},"encoding":{"y":{"field":"v","type":"quantitative","scale":{"domain":[-1.26,1.48],"nice":false,"zero":false},"axis":{"title":"[pu]","values":[-1.18,0,1.18],"format":".3~g","labelExpr":"replace(datum.label,'−','-')"}},"text":{"field":"lab"}}}
]},
{"width":1126,"height":54,
"encoding":{"x":{"field":"t","type":"quantitative","scale":{"domain":[1,1.25],"nice":false,"zero":false},"axis":null}},
"layer":[
{"data":{"name":"vg"},"mark":{"type":"rule","color":"#777","strokeDash":[1,2]},"encoding":{}},
{"data":{"values":[{"t":1,"t2":1.25}]},"mark":{"type":"rule","color":"#888"},"encoding":{"x2":{"field":"t2"},"y":{"datum":0,"type":"quantitative","scale":{"domain":[-0.5,3.5],"nice":false,"zero":false}}}},
{"data":{"name":"pq"},"transform":[{"fold":["P","Q"],"as":["s","v"]}],
"mark":{"type":"line","strokeWidth":1.5},
"encoding":{"y":{"field":"v","type":"quantitative","scale":{"domain":[-0.5,3.5],"nice":false,"zero":false},"axis":{"title":"[pu]","values":[0,1.5,3],"format":".3~g","labelOverlap":false}},
"color":{"field":"s","type":"nominal","scale":{"domain":["P","Q"],"range":["#ff0000","#000000"]},"legend":{"title":null,"orient":"none","legendX":1124,"legendY":-10,"rowPadding":3,"labelExpr":"datum.label=='P'?'Pg':'Qg'"}}}},
{"data":{"values":[{"t":1.0185,"v":1.57,"lab":"Unity pf"},{"t":1.0675,"v":1.15,"lab":"Unity pf"},{"t":1.1249,"v":1.03,"lab":"Unity pf"},{"t":1.1812,"v":1.03,"lab":"Lagging pf"},{"t":1.2336,"v":1.03,"lab":"Lagging pf"}]},
"mark":{"type":"text","color":"#0000ff","fontSize":16},
"encoding":{"y":{"field":"v","type":"quantitative","scale":{"domain":[-0.5,3.5],"nice":false,"zero":false},"axis":{"title":"[pu]","values":[0,1.5,3],"format":".3~g","labelOverlap":false}},"text":{"field":"lab"}}},
{"data":{"values":[{"t":1.1375,"v":-0.944,"lab":"(d)"}]},"mark":{"type":"text"},"encoding":{"y":{"field":"v","type":"quantitative","scale":{"domain":[-0.5,3.5],"nice":false,"zero":false},"axis":{"title":"[pu]","values":[0,1.5,3],"format":".3~g","labelOverlap":false}},"text":{"field":"lab"}}}
]},
{"width":1126,"height":86,
"encoding":{"x":{"field":"t","type":"quantitative","scale":{"domain":[1,1.25],"nice":false,"zero":false},"axis":null}},
"layer":[
{"data":{"name":"vg"},"mark":{"type":"rule","color":"#777","strokeDash":[1,2]},"encoding":{}},
{"data":{"values":[{"t":1,"t2":1.25}]},"mark":{"type":"rule","color":"#888"},"encoding":{"x2":{"field":"t2"},"y":{"datum":0,"type":"quantitative","scale":{"domain":[-1.6,1.7],"nice":false,"zero":false}}}},
{"data":{"name":"w"},"transform":[{"fold":["g","h","i"],"as":["s","v"]}],
"mark":{"type":"line","strokeWidth":3},
"encoding":{"y":{"field":"v","type":"quantitative","scale":{"domain":[-1.6,1.7],"nice":false,"zero":false},"axis":{"title":"[pu]","values":[-1.6,0,1.6],"format":".3~g","labelExpr":"replace(datum.label,'−','-')"}},
"color":{"field":"s","type":"nominal","scale":{"domain":["g","h","i"],"range":["#ff0000","#000000","#0000ff"]},"legend":{"title":null,"orient":"none","legendX":1127,"legendY":1,"rowPadding":5,"labelExpr":"datum.label=='g'?'vao':datum.label=='h'?'vbo':'vco'"}}}},
{"data":{"values":[{"t":1.1371,"v":-1.92,"lab":"(e)"}]},"mark":{"type":"text"},"encoding":{"y":{"field":"v","type":"quantitative","scale":{"domain":[-1.6,1.7],"nice":false,"zero":false},"axis":{"title":"[pu]","values":[-1.6,0,1.6],"format":".3~g","labelExpr":"replace(datum.label,'−','-')"}},"text":{"field":"lab"}}}
]},
{"width":1126,"height":133,
"encoding":{"x":{"field":"t","type":"quantitative","scale":{"domain":[1,1.25],"nice":false,"zero":false},"axis":null}},
"layer":[
{"data":{"name":"vg"},"mark":{"type":"rule","color":"#777","strokeDash":[1,2]},"encoding":{}},
{"data":{"values":[{"t":1,"t2":1.25}]},"mark":{"type":"rule","color":"#888"},"encoding":{"x2":{"field":"t2"},"y":{"datum":0,"type":"quantitative","scale":{"domain":[-1.76,2.0],"nice":false,"zero":false}}}},
{"data":{"name":"w"},"transform":[{"fold":["j","k","l"],"as":["s","v"]}],
"mark":{"type":"line","interpolate":"monotone","strokeWidth":1.5},
"encoding":{"y":{"field":"v","type":"quantitative","scale":{"domain":[-1.76,2.0],"nice":false,"zero":false},"axis":{"title":"[pu]","values":[-1.6,0,1.6],"format":".3~g","labelExpr":"replace(datum.label,'−','-')"}},
"color":{"field":"s","type":"nominal","scale":{"domain":["j","k","l"],"range":["#ff0000","#000000","#0000ff"]},"legend":{"title":null,"orient":"none","legendX":1132,"legendY":24,"rowPadding":3,"labelExpr":"datum.label=='j'?'v*ao':datum.label=='k'?'v*bo':'v*co'"}}}},
{"data":{"values":[{"t":1,"v":1.6,"s":"j","id":"a1"},{"t":1.25,"v":1.6,"s":"j","id":"a1"},{"t":1,"v":-1.6,"s":"j","id":"a2"},{"t":1.25,"v":-1.6,"s":"j","id":"a2"},{"t":1.05,"v":1.49,"s":"k","id":"b1"},{"t":1.25,"v":1.49,"s":"k","id":"b1"},{"t":1.05,"v":-1.46,"s":"k","id":"b2"},{"t":1.25,"v":-1.46,"s":"k","id":"b2"},{"t":1.05,"v":1.38,"s":"l","id":"c1"},{"t":1.25,"v":1.38,"s":"l","id":"c1"},{"t":1.05,"v":-1.33,"s":"l","id":"c2"},{"t":1.25,"v":-1.33,"s":"l","id":"c2"}]},
"mark":{"type":"line","strokeDash":[6,4],"strokeWidth":1.3,"opacity":0.75},
"encoding":{"y":{"field":"v","type":"quantitative","scale":{"domain":[-1.76,2.0],"nice":false,"zero":false},"axis":{"title":"[pu]","values":[-1.6,0,1.6],"format":".3~g","labelExpr":"replace(datum.label,'−','-')"}},"color":{"field":"s","type":"nominal","legend":null},"detail":{"field":"id"}}},
{"data":{"values":[{"t":1.2002,"t2":1.2505,"v":1.86,"v2":-1.74}]},"mark":{"type":"rect","fillOpacity":0,"stroke":"#008000","strokeWidth":2},
"encoding":{"x2":{"field":"t2"},"y":{"field":"v","type":"quantitative","scale":{"domain":[-1.76,2.0],"nice":false,"zero":false},"axis":{"title":"[pu]","values":[-1.6,0,1.6],"format":".3~g","labelExpr":"replace(datum.label,'−','-')"}},"y2":{"field":"v2"}}},
{"data":{"values":[{"t":1.0608,"v":1.83,"t2":1.0668,"v2":1.6},{"t":1.0761,"v":1.86,"t2":1.0813,"v2":1.51},{"t":1.0972,"v":1.82,"t2":1.1012,"v2":1.38},{"t":1.0587,"v":-1.98,"t2":1.0609,"v2":-1.55},{"t":1.0739,"v":-1.93,"t2":1.0761,"v2":-1.55},{"t":1.0831,"v":-1.84,"t2":1.085,"v2":-1.51}]},
"mark":{"type":"rule","color":"#000","strokeWidth":1.5},
"encoding":{"x2":{"field":"t2"},"y":{"field":"v","type":"quantitative","scale":{"domain":[-1.76,2.0],"nice":false,"zero":false},"axis":{"title":"[pu]","values":[-1.6,0,1.6],"format":".3~g","labelExpr":"replace(datum.label,'−','-')"}},"y2":{"field":"v2"}}},
{"data":{"values":[{"t":1.0542,"v":2.07,"s":"j","lab":"V"},{"t":1.0702,"v":2.07,"s":"k","lab":"V"},{"t":1.0913,"v":2.07,"s":"l","lab":"V"},{"t":1.0525,"v":-2.01,"s":"j","lab":"-V"},{"t":1.069,"v":-2.01,"s":"k","lab":"-V"},{"t":1.0823,"v":-2.01,"s":"l","lab":"-V"}]},
"mark":{"type":"text","fontSize":18,"fontStyle":"italic"},
"encoding":{"y":{"field":"v","type":"quantitative","scale":{"domain":[-1.76,2.0],"nice":false,"zero":false},"axis":{"title":"[pu]","values":[-1.6,0,1.6],"format":".3~g","labelExpr":"replace(datum.label,'−','-')"}},"text":{"field":"lab"},"color":{"field":"s","type":"nominal","legend":null}}},
{"data":{"values":[{"t":1.0582,"v":1.79,"s":"j","lab":"dca"},{"t":1.0742,"v":1.79,"s":"k","lab":"dcb"},{"t":1.0949,"v":1.79,"s":"l","lab":"dcc"},{"t":1.0587,"v":-2.26,"s":"j","lab":"dca"},{"t":1.0742,"v":-2.26,"s":"k","lab":"dcb"},{"t":1.0873,"v":-2.26,"s":"l","lab":"dcc"}]},
"mark":{"type":"text","fontSize":14},
"encoding":{"y":{"field":"v","type":"quantitative","scale":{"domain":[-1.76,2.0],"nice":false,"zero":false},"axis":{"title":"[pu]","values":[-1.6,0,1.6],"format":".3~g","labelExpr":"replace(datum.label,'−','-')"}},"text":{"field":"lab"},"color":{"field":"s","type":"nominal","legend":null}}},
{"data":{"values":[{"t":1.1368,"v":-1.79,"lab":"(f)"}]},"mark":{"type":"text"},"encoding":{"y":{"field":"v","type":"quantitative","scale":{"domain":[-1.76,2.0],"nice":false,"zero":false},"axis":{"title":"[pu]","values":[-1.6,0,1.6],"format":".3~g","labelExpr":"replace(datum.label,'−','-')"}},"text":{"field":"lab"}}}
]},
{"width":1126,"height":31,
"encoding":{"x":{"field":"t","type":"quantitative","scale":{"domain":[1,1.25],"nice":false,"zero":false},"axis":null}},
"layer":[
{"data":{"name":"vg"},"mark":{"type":"rule","color":"#777","strokeDash":[1,2]},"encoding":{}},
{"data":{"values":[{"t":1,"t2":1.25}]},"mark":{"type":"rule","color":"#666"},"encoding":{"x2":{"field":"t2"},"y":{"datum":0,"type":"quantitative","scale":{"domain":[0,0.134],"nice":false,"zero":false}}}},
{"data":{"values":[{"t":1,"v":0},{"t":1.1,"v":0},{"t":1.1,"v":0.13},{"t":1.15,"v":0.13},{"t":1.155,"v":0.128},{"t":1.16,"v":0.124},{"t":1.165,"v":0.12},{"t":1.17,"v":0.116},{"t":1.175,"v":0.113},{"t":1.18,"v":0.11},{"t":1.19,"v":0.106},{"t":1.2,"v":0.104},{"t":1.21,"v":0.102},{"t":1.225,"v":0.1},{"t":1.25,"v":0.1}]},
"mark":{"type":"line","strokeWidth":2},
"encoding":{"y":{"field":"v","type":"quantitative","scale":{"domain":[0,0.134],"nice":false,"zero":false},"axis":{"title":"[pu]","values":[0,0.13],"format":".3~g"}},
"color":{"datum":"Vz","type":"nominal","scale":{"range":["#ff0000"]},"legend":{"title":null,"orient":"none","legendX":1127,"legendY":-12,"padding":12}}}},
{"data":{"values":[{"t":1.2182,"v":0.163,"t2":1.2226,"v2":0.091}]},"mark":{"type":"rule","color":"#000","strokeWidth":1.5},
"encoding":{"x2":{"field":"t2"},"y":{"field":"v","type":"quantitative","scale":{"domain":[0,0.134],"nice":false,"zero":false},"axis":{"title":"[pu]","values":[0,0.13],"format":".3~g"}},"y2":{"field":"v2"}}},
{"data":{"values":[{"t":1.2274,"v":0.051,"lab":"PWM clamping Strategy"}]},"mark":{"type":"text","color":"#0000ff","fontSize":16},
"encoding":{"y":{"field":"v","type":"quantitative","scale":{"domain":[0,0.134],"nice":false,"zero":false},"axis":{"title":"[pu]","values":[0,0.13],"format":".3~g"}},"text":{"field":"lab"}}},
{"data":{"values":[{"t":1.1368,"v":-0.039,"lab":"(g)"}]},"mark":{"type":"text"},"encoding":{"y":{"field":"v","type":"quantitative","scale":{"domain":[0,0.134],"nice":false,"zero":false},"axis":{"title":"[pu]","values":[0,0.13],"format":".3~g"}},"text":{"field":"lab"}}}
]},
{"width":1126,"height":46,
"encoding":{"x":{"field":"t","type":"quantitative","scale":{"domain":[1,1.25],"nice":false,"zero":false},"axis":{"values":[1,1.05,1.1,1.15,1.2,1.25],"format":".3~g","title":"t (s)","ticks":false,"labelPadding":9,"labelFlush":false,"titlePadding":-3}}},
"layer":[
{"data":{"name":"vg"},"mark":{"type":"rule","color":"#777","strokeDash":[1,2]},"encoding":{}},
{"data":{"name":"w"},"transform":[{"fold":["p","q"],"as":["s","v"]}],
"mark":{"type":"line","interpolate":"monotone","strokeWidth":1.5},
"encoding":{"y":{"field":"v","type":"quantitative","scale":{"domain":[0,0.227],"nice":false,"zero":false},"axis":{"title":"[pu]","values":[0,0.16],"format":".3~g"}},
"detail":{"field":"s"},
"color":{"datum":"vdcij","type":"nominal","scale":{"range":["#000000"]},"legend":{"title":null,"orient":"none","legendX":1127,"legendY":9,"padding":9,"symbolSize":1,"symbolOpacity":0,"labelOffset":2}}}},
{"data":{"values":[{"t":1,"v":0.166,"s":"z"},{"t":1.05,"v":0.166,"s":"z"},{"t":1.0502,"v":0.03,"s":"z"},{"t":1.0508,"v":0,"s":"z"},{"t":1.25,"v":0,"s":"z"},{"t":1,"v":0.166,"s":"y"},{"t":1.25,"v":0.166,"s":"y"}]},
"mark":{"type":"line","strokeWidth":2,"color":"#000"},
"encoding":{"y":{"field":"v","type":"quantitative","scale":{"domain":[0,0.227],"nice":false,"zero":false},"axis":{"title":"[pu]","values":[0,0.16],"format":".3~g"}},"detail":{"field":"s"}}},
{"data":{"values":[{"t":1.0217,"v":0.157},{"t":1.0502,"v":0.044},{"t":1.1268,"v":0.148}]},
"mark":{"type":"point","shape":"M -0.64,0 A 0.64,1 0 1,1 0.64,0 A 0.64,1 0 1,1 -0.64,0 Z","size":676,"filled":false,"color":"#008000","strokeWidth":2,"opacity":1},
"encoding":{"y":{"field":"v","type":"quantitative","scale":{"domain":[0,0.227],"nice":false,"zero":false},"axis":{"title":"[pu]","values":[0,0.16],"format":".3~g"}}}},
{"data":{"values":[{"t":1.018,"v":0.107,"t2":1.0202,"v2":0.136},{"t":1.0561,"v":0.054,"t2":1.0524,"v2":0.054},{"t":1.122,"v":0.099,"t2":1.1246,"v2":0.137}]},
"mark":{"type":"rule","color":"#000","strokeWidth":1.5},
"encoding":{"x2":{"field":"t2"},"y":{"field":"v","type":"quantitative","scale":{"domain":[0,0.227],"nice":false,"zero":false},"axis":{"title":"[pu]","values":[0,0.16],"format":".3~g"}},"y2":{"field":"v2"}}},
{"data":{"values":[{"t":1.0106,"v":0.078,"lab":"30 traces"},{"t":1.0624,"v":0.054,"lab":"3 traces"},{"t":1.1147,"v":0.099,"lab":"27 traces"}]},
"mark":{"type":"text","color":"#0000ff","fontSize":16},
"encoding":{"y":{"field":"v","type":"quantitative","scale":{"domain":[0,0.227],"nice":false,"zero":false},"axis":{"title":"[pu]","values":[0,0.16],"format":".3~g"}},"text":{"field":"lab"}}},
{"data":{"values":[{"t":1.1357,"v":-0.082,"lab":"(h)"}]},"mark":{"type":"text"},"encoding":{"y":{"field":"v","type":"quantitative","scale":{"domain":[0,0.227],"nice":false,"zero":false},"axis":{"title":"[pu]","values":[0,0.16],"format":".3~g"}},"text":{"field":"lab"}}}
]}
]
}
